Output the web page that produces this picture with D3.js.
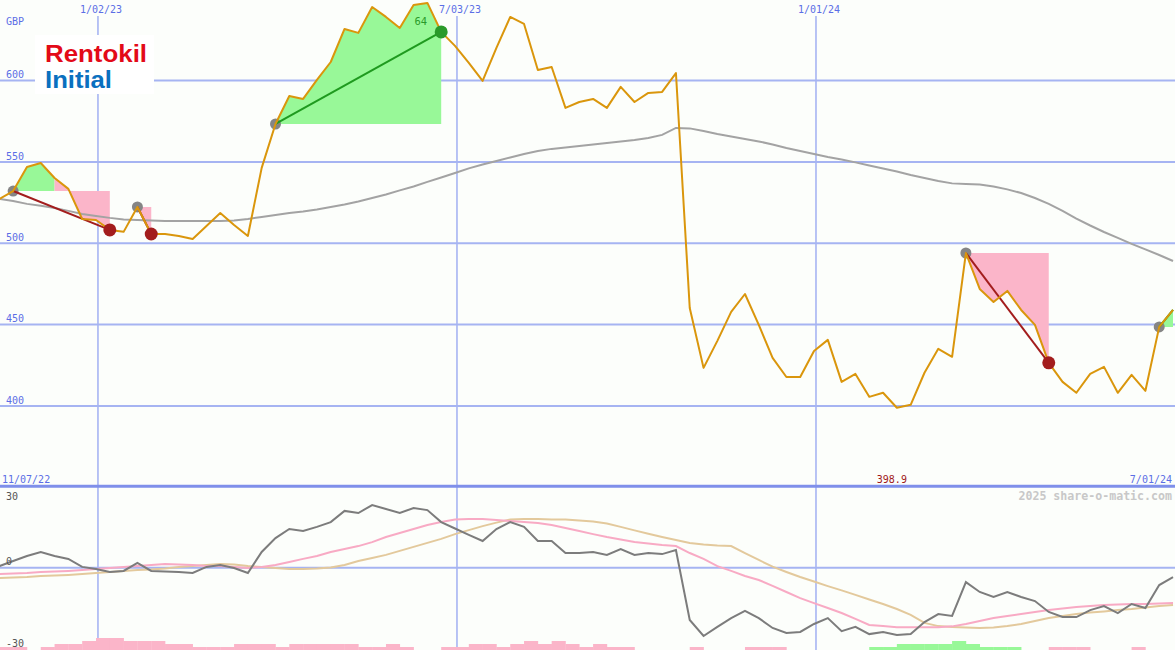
<!DOCTYPE html>
<html><head><meta charset="utf-8">
<script src="https://cdn.jsdelivr.net/npm/d3@7"></script>
<style>html,body{margin:0;padding:0;background:#fcfefb;}svg{display:block}</style>
</head><body><svg id="c" width="1175" height="650"></svg>
<script>
// ---------- data (weekly closes, GBp) ----------
const firstWeek = "2022-11-13";
const rangeStart = "2022-11-07";
const rangeEnd = "2024-07-01";
const price = [
 527.2,532.1,546.9,549.3,540.1,533.4,514.9,514.3,508.2,507.0,
 522.3,505.7,505.7,504.5,502.6,510.6,518.6,511.2,504.5,546.3,
 573.3,590.5,588.7,600.4,611.4,631.7,629.3,645.2,639.1,632.3,
 646.5,647.7,629.9,621.3,610.9,599.8,620.1,639.1,634.8,606.5,
 608.3,583.2,586.8,588.7,583.2,596.1,586.8,592.4,593.0,604.6,
 460.2,423.4,440.0,457.8,468.8,449.8,429.5,417.8,417.8,433.8,
 440.6,414.8,419.7,405.6,408.1,398.9,400.7,420.4,435.1,430.2,
 494.0,471.9,463.9,470.7,459.0,449.8,426.5,414.8,408.1,419.7,
 424.0,408.1,419.1,409.3,448.6,459.0];
const movingAvg = [
 527.2,526.0,524.2,523.0,521.7,519.9,518.0,516.8,515.6,514.6,
 514.3,514.0,513.7,513.7,513.7,513.7,513.7,514.0,514.9,516.2,
 517.4,518.6,519.5,520.8,522.3,523.8,525.7,527.8,530.0,532.5,
 534.9,537.7,540.4,543.2,546.0,548.4,550.6,552.7,554.9,556.7,
 558.0,558.9,559.8,560.7,561.6,562.6,563.5,564.7,566.6,570.9,
 570.6,569.0,567.2,565.6,564.1,562.6,560.7,558.6,556.7,554.9,
 553.0,551.5,549.7,547.8,546.0,544.1,542.0,540.1,538.3,536.8,
 536.4,536.1,534.9,533.1,530.9,527.8,524.2,519.9,515.2,510.9,
 506.9,503.3,499.6,496.2,492.8,489.1];
const oscillator = [
 0.6,2.5,4.4,5.9,4.4,3.3,0.3,-0.5,-1.6,-1.2,
 1.8,-1.2,-1.4,-1.6,-2.0,0.3,1.0,-0.1,-2.0,5.9,
 11.1,14.5,13.8,15.3,17.1,21.3,20.5,23.5,22.0,20.5,
 22.4,21.6,17.1,14.7,12.3,10.0,14.5,17.1,15.3,10.0,
 10.0,5.5,5.5,5.9,4.8,7.0,4.8,5.5,5.1,6.6,
 -19.6,-25.6,-22.2,-18.9,-16.2,-18.9,-22.6,-24.5,-24.1,-21.1,
 -18.9,-23.8,-22.2,-24.9,-24.1,-25.2,-24.9,-20.4,-17.4,-18.1,
 -5.4,-9.1,-11.0,-9.1,-11.0,-12.5,-16.6,-18.5,-18.5,-15.9,
 -14.4,-17.0,-13.6,-15.1,-6.5,-3.5];
const signalFast = [
 -2.4,-2.2,-2.0,-1.6,-1.4,-1.2,-0.9,-0.5,-0.1,0.3,
 0.6,1.0,1.4,1.2,1.0,0.6,0.6,0.3,-0.1,0.3,
 1.0,2.1,3.3,4.4,5.9,7.0,8.1,9.6,11.5,13.0,
 14.5,16.0,17.1,18.1,18.3,18.3,17.9,17.5,17.1,16.8,
 16.0,14.9,13.8,12.6,11.5,10.6,9.6,9.1,8.5,8.1,
 5.5,3.3,0.6,-1.2,-3.1,-4.6,-6.8,-9.1,-11.4,-13.3,
 -15.1,-17.0,-19.2,-21.5,-21.9,-22.3,-22.3,-22.3,-22.3,-22.0,
 -21.1,-20.0,-18.9,-18.1,-17.4,-16.6,-15.9,-15.3,-14.7,-14.4,
 -14.0,-13.8,-13.6,-13.6,-13.4,-13.2];
const signalSlow = [
 -3.9,-3.7,-3.5,-3.1,-2.9,-2.7,-2.4,-2.0,-1.6,-1.2,
 -0.9,-0.7,-0.3,0.3,0.6,1.0,1.4,1.2,0.6,0.3,
 -0.1,-0.5,-0.5,-0.3,0.1,1.0,2.5,3.6,4.8,6.3,
 7.8,9.3,10.8,12.6,14.1,15.6,16.9,18.1,18.3,18.3,
 18.1,18.1,17.7,17.3,16.6,15.3,14.0,12.7,11.5,10.4,
 9.3,8.7,8.3,8.1,5.5,2.9,0.4,-1.6,-3.5,-5.2,
 -6.9,-8.5,-10.2,-11.9,-13.6,-15.5,-17.7,-20.7,-21.9,-22.2,
 -22.4,-22.6,-22.4,-21.9,-21.1,-20.0,-18.9,-18.1,-17.4,-16.8,
 -16.4,-15.9,-15.5,-14.9,-14.4,-14.0];
// weekly signal bars: negative = pink, positive = green, magnitude = level
const signalBars = [
 -1,-1,0,-1,-2,-2,-3,-4,-4,-3,
 -3,-3,-2,-2,-1,-1,-1,-2,-2,-2,
 -1,-2,-2,-2,-2,-2,-1,-1,-2,-1,
 0,0,-1,-1,-2,-2,-1,-2,-3,-2,
 -3,-2,-1,-2,-1,-1,0,0,0,0,
 -1,0,0,0,-1,-1,-1,0,0,0,
 0,0,0,1,1,2,2,2,2,3,
 2,1,1,1,0,0,-1,-1,-1,0,
 0,0,-1,0,0];
// trades: entry week index, exit week index, week where the fill turns pink, open?
const tradeEntry = [1, 10, 20, 70, 84];
const tradeExit  = [8, 11, 32, 76, 85];
const tradeTurn  = [4, 10, 32, 70, 85];
const tradeOpen  = [false, false, false, false, true];
const tradeNotes = ["", "", "64", "", ""];
const priceTicks = [400, 450, 500, 550, 600];
const oscTicks = [30, 0, -30];
const dateTicks = ["2023-01-02", "2023-07-03", "2024-01-01"];
const currency = "GBP";
const credit = "2025 share-o-matic.com";
const logoLines = ["Rentokil", "Initial"];

// ---------- setup ----------
const W = 1175, H = 650;
const parse = d3.utcParse("%Y-%m-%d");
const fmt = d3.utcFormat("%-m/%d/%y");
const dates = price.map((_, i) => d3.utcDay.offset(parse(firstWeek), 7 * i));
const svg = d3.select("#c");
const x = d3.scaleUtc().domain([parse(rangeStart), parse(rangeEnd)]).range([-12.5, W]);
const y = d3.scaleLinear().domain([350, 650]).range([487.3, -0.8]);
const yo = d3.scaleLinear().domain([-30, 30]).range([647.7, 487.7]);
const xi = i => x(dates[i]);

const GRID = "#a6b4f2", SEP = "#7f8fea", LBL = "#5b6ee6";
const MONO = "'DejaVu Sans Mono', monospace";

svg.append("rect").attr("width", W).attr("height", H).attr("fill", "#fcfefb");

// grid
svg.append("g").selectAll("line").data(priceTicks).join("line")
  .attr("x1", 0).attr("x2", W).attr("y1", d => y(d)).attr("y2", d => y(d))
  .attr("stroke", GRID).attr("stroke-width", 2);
svg.append("line").attr("x1", 0).attr("x2", W).attr("y1", yo(0)).attr("y2", yo(0))
  .attr("stroke", GRID).attr("stroke-width", 2);
svg.append("g").selectAll("line").data(dateTicks).join("line")
  .attr("x1", d => x(parse(d))).attr("x2", d => x(parse(d)))
  .attr("y1", 16).attr("y2", H)
  .attr("stroke", GRID).attr("stroke-width", 1.6);
svg.append("line").attr("x1", 0).attr("x2", W).attr("y1", 486.3).attr("y2", 486.3)
  .attr("stroke", SEP).attr("stroke-width", 3);

// trade fills
const main = svg.append("g");
tradeEntry.forEach((e, t) => {
  const base = y(price[e]);
  const area = d3.area().x(i => xi(i)).y0(base).y1(i => y(price[i]));
  const turn = tradeTurn[t], ex = tradeExit[t];
  if (turn > e) main.append("path").attr("d", area(d3.range(e, turn + 1))).attr("fill", "#98f898");
  if (ex > turn) main.append("path").attr("d", area(d3.range(turn, ex + 1))).attr("fill", "#fbb5c9");
});

// moving average
main.append("path").attr("d", d3.line().x((d, i) => xi(i)).y(d => y(d))(movingAvg))
  .attr("fill", "none").attr("stroke", "#a3a3a3").attr("stroke-width", 2);

// lower panel bars
const barH = 3;
svg.append("g").selectAll("rect").data(signalBars.map((v, i) => ({v, i})).filter(d => d.v !== 0)).join("rect")
  .attr("x", d => xi(d.i)).attr("width", d => xi(d.i + 1) - xi(d.i) + 0.3)
  .attr("y", d => H - Math.abs(d.v) * barH).attr("height", d => Math.abs(d.v) * barH)
  .attr("fill", d => d.v > 0 ? "#98f898" : "#fbb5c9");

// lower lines
const lo = d3.line().x((d, i) => xi(i)).y(d => yo(d));
svg.append("path").attr("d", lo(signalSlow)).attr("fill", "none").attr("stroke", "#e3c99c").attr("stroke-width", 2);
svg.append("path").attr("d", lo(signalFast)).attr("fill", "none").attr("stroke", "#f8aac4").attr("stroke-width", 2);
svg.append("path").attr("d", lo(oscillator)).attr("fill", "none").attr("stroke", "#7c7c7c").attr("stroke-width", 2);

// entry dots
main.selectAll("circle.entry").data(tradeEntry).join("circle").attr("class", "entry")
  .attr("cx", i => xi(i)).attr("cy", i => y(price[i])).attr("r", 5.5).attr("fill", "#858585");

// trade lines
tradeEntry.forEach((e, t) => {
  const ex = tradeExit[t], gain = price[ex] >= price[e];
  main.append("line").attr("x1", xi(e)).attr("y1", y(price[e])).attr("x2", xi(ex)).attr("y2", y(price[ex]))
    .attr("stroke", gain ? "#1f9a1f" : "#a31d1d").attr("stroke-width", 2);
});

// price
main.append("path").attr("d", d3.line().x((d, i) => xi(i)).y(d => y(d))(price))
  .attr("fill", "none").attr("stroke", "#da960c").attr("stroke-width", 2).attr("stroke-linejoin", "round");

// exit dots + notes
tradeEntry.forEach((e, t) => {
  if (tradeOpen[t]) return;
  const ex = tradeExit[t], gain = price[ex] >= price[e];
  main.append("circle").attr("cx", xi(ex)).attr("cy", y(price[ex])).attr("r", 6.5)
    .attr("fill", gain ? "#2a9a2a" : "#a31d1d");
  if (tradeNotes[t]) main.append("text").attr("x", xi(ex) - 14).attr("y", y(price[ex]) - 7)
    .attr("text-anchor", "end").attr("font-family", MONO).attr("font-size", 10.5)
    .attr("fill", "#2a9a2a").text(tradeNotes[t]);
});

// logo
svg.append("rect").attr("x", 35).attr("y", 35).attr("width", 119).attr("height", 59).attr("fill", "#ffffff");
const logoFont = "'Liberation Sans', Arial, sans-serif";
svg.append("text").attr("x", 45).attr("y", 62).attr("font-family", logoFont)
  .attr("font-weight", 700).attr("font-size", 23.6).attr("fill", "#e30a18")
  .attr("textLength", 102).attr("lengthAdjust", "spacingAndGlyphs").text(logoLines[0]);
svg.append("text").attr("x", 45).attr("y", 88.4).attr("font-family", logoFont)
  .attr("font-weight", 700).attr("font-size", 23.6).attr("fill", "#0a70bf")
  .attr("textLength", 67).attr("lengthAdjust", "spacingAndGlyphs").text(logoLines[1]);

// labels
const lab = svg.append("g").attr("font-family", MONO).attr("font-size", 10);
lab.selectAll("text.p").data(priceTicks).join("text").attr("class", "p")
  .attr("x", 6).attr("y", d => y(d) - 2.2).attr("fill", LBL).text(d => d);
lab.append("text").attr("x", 6).attr("y", 25).attr("fill", LBL).text(currency);
lab.selectAll("text.d").data(dateTicks).join("text").attr("class", "d")
  .attr("x", d => x(parse(d)) + 3).attr("y", 12.5).attr("text-anchor", "middle")
  .attr("fill", LBL).text(d => fmt(parse(d)));
lab.append("text").attr("x", 2).attr("y", 482.5).attr("fill", LBL).text(fmt(parse(rangeStart)));
lab.append("text").attr("x", 1172).attr("y", 482.5).attr("text-anchor", "end").attr("fill", LBL).text(fmt(parse(rangeEnd)));
const minI = d3.minIndex(price);
lab.append("text").attr("x", xi(minI) - 5).attr("y", 482.5).attr("text-anchor", "middle")
  .attr("fill", "#a01818").text(d3.format(".1f")(price[minI]));
lab.selectAll("text.o").data(oscTicks).join("text").attr("class", "o")
  .attr("x", 6).attr("y", d => d === 30 ? 499.5 : (d === 0 ? 565 : 646.7))
  .attr("fill", "#555555").text(d => d);
svg.append("text").attr("x", 1172).attr("y", 500).attr("text-anchor", "end")
  .attr("font-family", MONO).attr("font-weight", 700).attr("font-size", 11.6)
  .attr("fill", "#c8c8c8").text(credit);
</script></body></html>
